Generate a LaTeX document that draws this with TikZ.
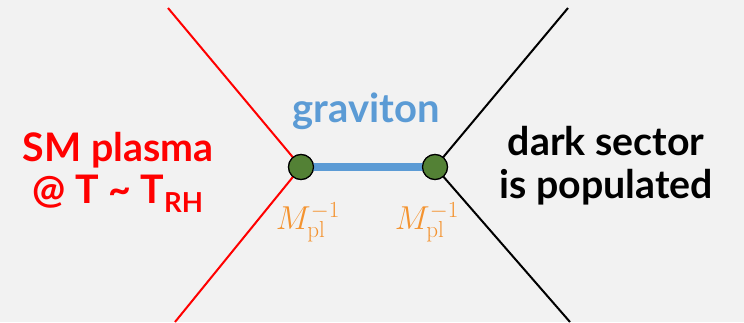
\documentclass[tikz,border=0pt]{standalone}
\usepackage[no-math]{fontspec}
\setmainfont{Lato}
\usepackage{xcolor}
\usetikzlibrary{calc}

\definecolor{bggray}{HTML}{F2F2F2}
\definecolor{gravblue}{HTML}{5B9BD5}
\definecolor{dotgreen}{HTML}{538135}
\definecolor{mplorange}{HTML}{F4932F}

\begin{document}
\begin{tikzpicture}[
  x=0.75pt,y=-0.75pt,
  vert/.style={circle,draw=black,line width=0.9pt,fill=dotgreen,minimum size=18.75pt,inner sep=0pt},
  leg/.style={line width=1.5pt},
  lbl/.style={font=\fontsize{29.5}{32}\selectfont\bfseries,align=center},
  coup/.style={text=mplorange,font=\fontsize{24}{28}\selectfont}
]
  % Background
  \fill[bggray] (0,0) rectangle (744,322);
  \useasboundingbox (0,0) rectangle (744,322);

  % Vertices
  \coordinate (smtop) at (168,8);
  \coordinate (smbot) at (175,322);
  \coordinate (dktop) at (568,8);
  \coordinate (dkbot) at (570,322);
  \node[vert] (vl) at (301,167) {};
  \node[vert] (vr) at (435,167) {};

  % Legs
  \draw[leg,red] (smtop) -- (vl.center) -- (smbot);
  \draw[leg,black] (dktop) -- (vr.center) -- (dkbot);

  % Graviton
  \draw[gravblue,line width=5.5pt] (vl.center) -- (vr.center);
  \node[vert] at (vl) {};
  \node[vert] at (vr) {};
  \node[lbl,text=gravblue,font=\fontsize{30}{32}\selectfont\bfseries] (grav) at (366,111) {graviton};

  % Labels
  \node[lbl,text=red] (sm) at (118,172) {SM plasma\\@ T \char`~{} T\textsubscript{RH}};
  \node[lbl,text=black] (dark) at (606,166) {dark sector\\is populated};
  \node[coup] (cl) at (308,222) {$M_{\mathrm{pl}}^{-1}$};
  \node[coup] (cr) at (427,222) {$M_{\mathrm{pl}}^{-1}$};
\end{tikzpicture}
\end{document}
